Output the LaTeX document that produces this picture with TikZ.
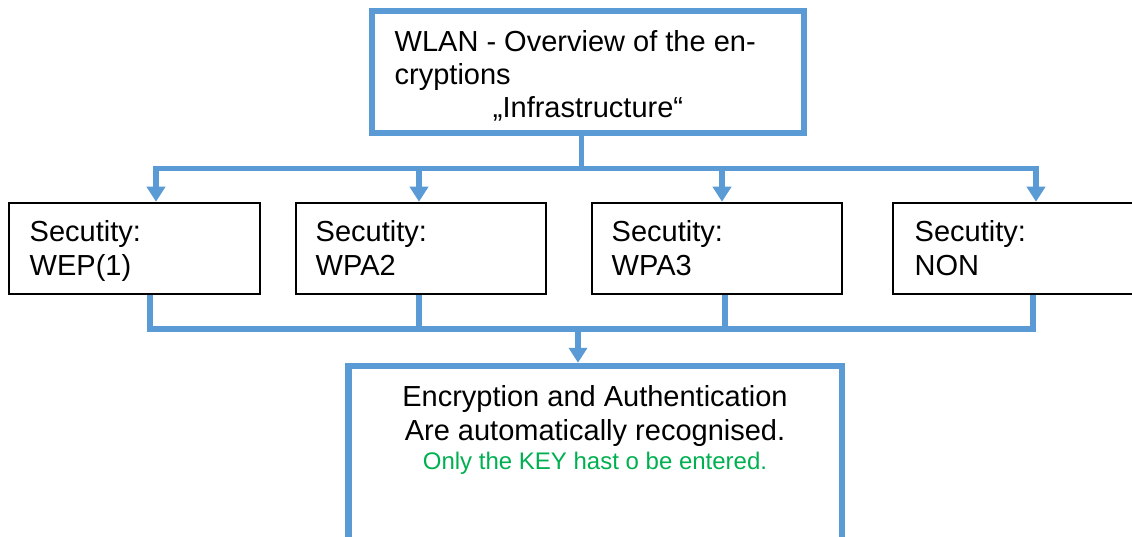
\documentclass[tikz,border=0pt]{standalone}
\usepackage{fontspec}
\setmainfont{Liberation Sans}
\usetikzlibrary{arrows.meta}
\definecolor{wblue}{HTML}{5B9BD5}
\definecolor{wgreen}{HTML}{00B050}
\begin{document}
\begin{tikzpicture}[x=1pt,y=-1pt,
  bluebox/.style={draw=wblue,line width=6.5pt,rectangle,inner sep=0pt},
  secbox/.style={draw=black,line width=2.5pt,rectangle,inner sep=0pt,minimum height=91pt},
  txt/.style={inner sep=0pt,font=\fontsize{29}{34}\selectfont,anchor=base west},
  ctxt/.style={inner sep=0pt,font=\fontsize{29}{34}\selectfont,anchor=base},
  gtxt/.style={inner sep=0pt,font=\fontsize{24}{28}\selectfont,anchor=base,text=wgreen},
  conn/.style={draw=wblue,line width=5.5pt},
  arr/.style={conn,-{Triangle[length=15pt,width=18pt]}}
]
\useasboundingbox (0,0) rectangle (1132,537);
\clip (0,0) rectangle (1132,537);

% boxes
\node[bluebox,minimum width=432pt,minimum height=122pt] (top) at (588,72) {};
\node[secbox,minimum width=251pt] (b1) at (134.5,248.5) {};
\node[secbox,minimum width=250pt] (b2) at (421,248.5) {};
\node[secbox,minimum width=250pt] (b3) at (717,248.5) {};
\node[secbox,minimum width=252pt] (b4) at (1019,248.5) {};
\node[bluebox,minimum width=493.5pt,minimum height=234pt] (bot) at (595.25,483) {};

% texts
\node[txt] (tl1) at (394.5,52) {WLAN - Overview of the en-};
\node[txt] (tl2) at (394.5,85) {cryptions};
\node[ctxt] (tl3) at (588,118) {„Infrastructure“};

\node[txt] (s1a) at (29.5,242) {Secutity:};
\node[txt] (s1b) at (29.5,276) {WEP(1)};
\node[txt] (s2a) at (315.5,242) {Secutity:};
\node[txt] (s2b) at (315.5,276) {WPA2};
\node[txt] (s3a) at (611.5,242) {Secutity:};
\node[txt] (s3b) at (611.5,276) {WPA3};
\node[txt] (s4a) at (914.5,242) {Secutity:};
\node[txt] (s4b) at (914.5,276) {NON};

\node[ctxt] (e1) at (595,406.5) {Encryption and Authentication};
\node[ctxt] (e2) at (595,440) {Are automatically recognised.};
\node[gtxt] (e3) at (595,469.5) {Only the KEY hast o be entered.};

% junction coordinates
\coordinate (j1) at (581.5,168.5);
\coordinate (t1) at (156,0);
\coordinate (t2) at (419,0);
\coordinate (t3) at (722,0);
\coordinate (t4) at (1036,0);
\coordinate (j2) at (578,329);
\coordinate (s1) at (150,329);
\coordinate (s2) at (419,329);
\coordinate (s3) at (725,329);
\coordinate (s4) at (1033,329);

% top distribution
\draw[conn] (j1 |- top.south) -- (j1);
\draw[arr] (j1) -| (t1 |- b1.north);
\draw[arr] (j1) -| (t4 |- b4.north);
\draw[arr] (t2 |- j1) -- (t2 |- b2.north);
\draw[arr] (t3 |- j1) -- (t3 |- b3.north);

% bottom collection
\draw[conn] (s1 |- b1.south) -- (s1) -- (s4) -- (s4 |- b4.south);
\draw[conn] (s2 |- b2.south) -- (s2);
\draw[conn] (s3 |- b3.south) -- (s3);
\draw[arr] (j2) -- (j2 |- bot.north);
\end{tikzpicture}
\end{document}
